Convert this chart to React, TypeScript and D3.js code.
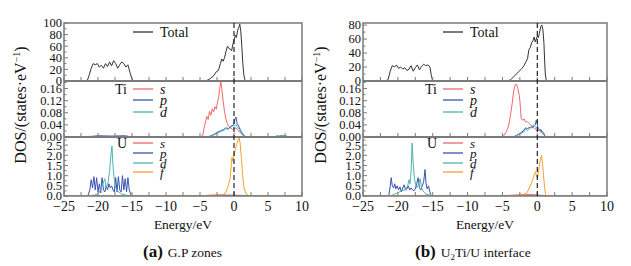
import React from 'react';
import * as d3 from 'd3';

type P = [number, number];

// ---------- tick values ----------
const energyTicks = [-25, -20, -15, -10, -5, 0, 5, 10];
const totalTicksA = [0, 20, 40, 60, 80, 100];
const totalTicksB = [0, 20, 40, 60, 80];
const tiTicks = [0, 0.04, 0.08, 0.12, 0.16];
const uTicks = [0, 0.5, 1.0, 1.5, 2.0, 2.5];

// ---------- (a) G.P zones ----------
const aTotal: P[] = [
  [-25, 0], [-22, 0], [-21.6, 0], [-21.3, 10], [-21.0, 22], [-20.7, 30], [-20.4, 28], [-20.1, 30], [-19.8, 24],
  [-19.5, 27], [-19.2, 22], [-18.9, 30], [-18.6, 25], [-18.3, 33], [-18.0, 26], [-17.7, 35], [-17.4, 30],
  [-17.1, 22], [-16.8, 28], [-16.5, 33], [-16.2, 30], [-15.9, 24], [-15.6, 28], [-15.3, 15], [-15.0, 3],
  [-14.7, 0], [-4.2, 0], [-3.8, 2], [-3.5, 4], [-3.0, 9], [-2.6, 16], [-2.3, 18], [-2.0, 30], [-1.8, 38],
  [-1.6, 34], [-1.4, 40], [-1.2, 50], [-0.95, 60], [-0.75, 56], [-0.55, 55], [-0.35, 52], [-0.15, 64],
  [0.05, 72], [0.2, 79], [0.35, 75], [0.55, 88], [0.7, 92], [0.85, 98], [1.0, 86], [1.15, 60], [1.3, 30],
  [1.45, 10], [1.6, 2], [1.8, 0], [10, 0],
];
const aTiS: P[] = [
  [-25, 0], [-5, 0], [-4.6, 0.005], [-4.3, 0.04], [-4.0, 0.068], [-3.8, 0.058], [-3.6, 0.085], [-3.4, 0.072],
  [-3.2, 0.093], [-3.0, 0.083], [-2.8, 0.1], [-2.6, 0.092], [-2.4, 0.118], [-2.25, 0.13], [-2.1, 0.16],
  [-1.95, 0.185], [-1.8, 0.16], [-1.6, 0.12], [-1.4, 0.085], [-1.2, 0.06], [-1.0, 0.045], [-0.8, 0.035],
  [-0.5, 0.03], [-0.2, 0.025], [0, 0.028], [0.3, 0.03], [0.6, 0.022], [0.9, 0.015], [1.2, 0.008],
  [1.5, 0.002], [1.8, 0], [10, 0],
];
const aTiP: P[] = [
  [-25, 0], [-21, 0.002], [-20, 0.004], [-18, 0.003], [-16, 0.004], [-15, 0], [-4, 0], [-3.5, 0.003],
  [-3, 0.008], [-2.5, 0.015], [-2, 0.02], [-1.5, 0.025], [-1.2, 0.03], [-0.8, 0.028], [-0.5, 0.035],
  [-0.2, 0.038], [0, 0.045], [0.15, 0.06], [0.3, 0.066], [0.45, 0.045], [0.6, 0.04], [0.8, 0.03],
  [1.0, 0.02], [1.3, 0.01], [1.6, 0.002], [2, 0], [6, 0], [6.3, 0.004], [6.6, 0.002], [7, 0.005],
  [7.3, 0.003], [7.6, 0.004], [8, 0], [10, 0],
];
const aTiD: P[] = [
  [-25, 0], [-4, 0], [-3.5, 0.002], [-3, 0.006], [-2.5, 0.012], [-2, 0.018], [-1.5, 0.022], [-1.2, 0.028],
  [-0.9, 0.025], [-0.6, 0.03], [-0.3, 0.035], [0, 0.038], [0.3, 0.04], [0.5, 0.032], [0.8, 0.025],
  [1.0, 0.015], [1.3, 0.006], [1.6, 0], [6.2, 0], [6.6, 0.003], [7.1, 0.004], [7.6, 0.002], [8, 0], [10, 0],
];
const aUS: P[] = [
  [-25, 0], [-5, 0], [-4, 0.03], [-3, 0.05], [-2, 0.06], [-1, 0.05], [0, 0.04], [1, 0.03], [2, 0.01], [3, 0], [10, 0],
];
const aUP: P[] = [
  [-25, 0], [-21.5, 0], [-21.2, 0.3], [-21.0, 0.8], [-20.8, 0.4], [-20.6, 0.95], [-20.4, 0.3], [-20.2, 0.9],
  [-20.0, 0.2], [-19.8, 0.6], [-19.6, 0.15], [-19.4, 0.9], [-19.2, 0.3], [-19.0, 0.2], [-18.8, 0.5],
  [-18.6, 0.3], [-18.4, 0.6], [-18.2, 0.4], [-18.0, 0.5], [-17.8, 0.3], [-17.6, 0.2], [-17.4, 0.9],
  [-17.2, 0.2], [-17.0, 0.95], [-16.8, 0.3], [-16.6, 0.2], [-16.4, 1.0], [-16.2, 0.3], [-16.0, 0.85],
  [-15.8, 0.2], [-15.6, 0.9], [-15.4, 0.3], [-15.2, 0.1], [-15.0, 0], [10, 0],
];
const aUD: P[] = [
  [-25, 0], [-21.5, 0], [-20.5, 0.05], [-20, 0.1], [-19.6, 0.3], [-19.3, 0.6], [-19.0, 0.85], [-18.8, 0.4],
  [-18.5, 0.7], [-18.3, 1.2], [-18.1, 2.0], [-17.95, 2.45], [-17.8, 1.5], [-17.6, 0.8], [-17.4, 0.4],
  [-17.0, 0.2], [-16.5, 0.1], [-16, 0.05], [-15.5, 0.02], [-15, 0], [10, 0],
];
const aUF: P[] = [
  [-25, 0], [-5, 0], [-3, 0.02], [-2, 0.04], [-1.5, 0.08], [-1.2, 0.2], [-0.9, 0.45], [-0.6, 0.8],
  [-0.4, 1.5], [-0.3, 1.9], [-0.15, 1.7], [0, 2.0], [0.2, 2.3], [0.4, 2.55], [0.6, 2.75], [0.75, 2.85],
  [0.9, 2.6], [1.1, 1.8], [1.3, 0.9], [1.5, 0.35], [1.8, 0.1], [2.2, 0.02], [3, 0], [10, 0],
];

// ---------- (b) U2Ti/U interface ----------
const bTotal: P[] = [
  [-25, 0], [-21.8, 0], [-21.4, 2], [-21.1, 14], [-20.8, 22], [-20.5, 20], [-20.2, 23], [-19.9, 18],
  [-19.6, 20], [-19.3, 17], [-19.0, 19], [-18.7, 15], [-18.4, 17], [-18.1, 22], [-17.8, 14], [-17.5, 19],
  [-17.2, 23], [-16.9, 16], [-16.6, 21], [-16.3, 24], [-16.0, 22], [-15.7, 23], [-15.4, 20], [-15.2, 8],
  [-15.0, 0], [-4.2, 0], [-3.8, 2], [-3.4, 6], [-3.0, 10], [-2.6, 14], [-2.2, 18], [-1.9, 22], [-1.6, 28],
  [-1.4, 32], [-1.2, 45], [-1.0, 48], [-0.8, 55], [-0.6, 58], [-0.45, 63], [-0.3, 56], [-0.15, 60],
  [0, 64], [0.15, 62], [0.3, 68], [0.5, 78], [0.65, 80], [0.8, 74], [0.95, 55], [1.05, 30], [1.15, 10],
  [1.3, 0], [10, 0],
];
const bTiS: P[] = [
  [-25, 0], [-5.2, 0], [-4.8, 0.005], [-4.5, 0.015], [-4.2, 0.03], [-4.0, 0.05], [-3.8, 0.08], [-3.6, 0.11],
  [-3.4, 0.15], [-3.2, 0.17], [-3.0, 0.175], [-2.8, 0.16], [-2.6, 0.14], [-2.5, 0.12], [-2.4, 0.09],
  [-2.3, 0.06], [-2.1, 0.055], [-1.9, 0.06], [-1.7, 0.05], [-1.5, 0.052], [-1.2, 0.045], [-1.0, 0.04],
  [-0.7, 0.035], [-0.4, 0.03], [-0.1, 0.022], [0.1, 0.02], [0.3, 0.025], [0.6, 0.02], [0.9, 0.015],
  [1.1, 0.005], [1.3, 0], [10, 0],
];
const bTiP: P[] = [
  [-25, 0], [-3.5, 0], [-3, 0.005], [-2.5, 0.012], [-2, 0.02], [-1.7, 0.03], [-1.4, 0.028], [-1.1, 0.032],
  [-0.8, 0.03], [-0.5, 0.035], [-0.3, 0.04], [-0.15, 0.055], [0, 0.045], [0.1, 0.03], [0.3, 0.02],
  [0.5, 0.025], [0.7, 0.015], [0.9, 0.01], [1.2, 0], [10, 0],
];
const bTiD: P[] = [
  [-25, 0], [-3.5, 0], [-3, 0.004], [-2.5, 0.01], [-2, 0.015], [-1.7, 0.025], [-1.4, 0.022], [-1.1, 0.03],
  [-0.8, 0.035], [-0.5, 0.04], [-0.3, 0.035], [-0.1, 0.03], [0.1, 0.028], [0.3, 0.02], [0.6, 0.015],
  [0.9, 0.008], [1.2, 0], [10, 0],
];
const bUS: P[] = [
  [-25, 0], [-5, 0], [-4, 0.03], [-3, 0.05], [-2, 0.06], [-1, 0.08], [0, 0.05], [1, 0.02], [1.5, 0], [10, 0],
];
const bUP: P[] = [
  [-25, 0], [-21.3, 0], [-21.1, 0.5], [-20.95, 0.9], [-20.8, 0.5], [-20.6, 0.4], [-20.45, 0.6], [-20.3, 0.35],
  [-20.1, 0.5], [-19.9, 0.3], [-19.7, 0.45], [-19.5, 0.2], [-19.3, 0.4], [-19.1, 0.55], [-18.9, 0.3],
  [-18.7, 0.35], [-18.5, 0.5], [-18.3, 0.3], [-18.1, 0.4], [-17.9, 0.3], [-17.7, 0.25], [-17.5, 0.35],
  [-17.3, 0.6], [-17.1, 0.9], [-16.9, 0.4], [-16.7, 0.3], [-16.5, 0.5], [-16.3, 0.7], [-16.1, 1.3],
  [-15.95, 0.6], [-15.8, 0.35], [-15.6, 0.5], [-15.4, 0.2], [-15.2, 0], [10, 0],
];
const bUD: P[] = [
  [-25, 0], [-21, 0], [-20.5, 0.1], [-20, 0.15], [-19.5, 0.25], [-19, 0.3], [-18.6, 0.5], [-18.4, 0.8],
  [-18.25, 0.6], [-18.1, 1.2], [-17.95, 2.6], [-17.8, 1.6], [-17.6, 0.8], [-17.3, 0.4], [-17.0, 0.6],
  [-16.8, 0.85], [-16.6, 0.4], [-16.3, 0.2], [-16, 0.1], [-15.5, 0.05], [-15, 0], [10, 0],
];
const bUF: P[] = [
  [-25, 0], [-4.5, 0], [-3.5, 0.02], [-2.5, 0.05], [-2, 0.08], [-1.5, 0.15], [-1.2, 0.35], [-0.9, 0.6],
  [-0.6, 0.85], [-0.4, 1.1], [-0.25, 1.2], [-0.1, 0.95], [0.05, 0.9], [0.2, 1.3], [0.4, 1.7], [0.6, 2.0],
  [0.75, 1.6], [0.9, 1.0], [1.05, 0.4], [1.2, 0.05], [1.35, 0], [10, 0],
];

const orbitals = ['s', 'p', 'd', 'f'];

// ---------- styles ----------
const FONT = "'Liberation Serif', 'DejaVu Serif', serif";
const C_TOTAL = '#333333';
const C_S = '#f26666';
const C_P = '#3a52b0';
const C_D = '#4db3b3';
const C_F = '#f5a030';
const C_FRAME = '#7a7a7a';

const TOP = 23, SEP1 = 81, SEP2 = 137, BOT = 196;

type Series = { data: P[]; color: string };

function Sub(props: {
  id: string; x: d3.ScaleLinear<number, number>; top: number; bottom: number; ymax: number;
  ticks: number[]; minorStep: number; fmt: (v: number) => string; series: Series[];
}) {
  const { id, x, top, bottom, ymax, ticks, minorStep, fmt, series } = props;
  const y = d3.scaleLinear().domain([0, ymax]).range([bottom, top]);
  const [x0, x1] = x.range();
  const line = d3.line<P>().x(d => x(d[0])).y(d => y(d[1]));
  const minors = d3.range(0, ymax + 1e-9, minorStep).filter(v => !ticks.some(t => Math.abs(t - v) < 1e-9));
  const xMinor = d3.range(-25, 10.001, 2.5);
  return (
    <g>
      <clipPath id={id}><rect x={x0} y={top} width={x1 - x0} height={bottom - top} /></clipPath>
      <g clipPath={`url(#${id})`}>
        {series.map((s, i) => (
          <path key={i} d={line(s.data) || ''} fill="none" stroke={s.color} strokeWidth={1} strokeLinejoin="round" />
        ))}
      </g>
      {ticks.map(t => (
        <g key={t}>
          <line x1={x0} x2={x0 + 4} y1={y(t)} y2={y(t)} stroke={C_FRAME} strokeWidth={1} />
          <text x={x0 - 2} y={y(t)} dy="0.35em" textAnchor="end" style={{ fontFamily: FONT, fontSize: 12.5 }} fill="#111">{fmt(t)}</text>
        </g>
      ))}
      {minors.map(t => (
        <line key={'m' + t} x1={x0} x2={x0 + 2.5} y1={y(t)} y2={y(t)} stroke={C_FRAME} strokeWidth={1} />
      ))}
      {xMinor.map(e => (
        <line key={'x' + e} x1={x(e)} x2={x(e)} y1={bottom} y2={bottom - 4} stroke={C_FRAME} strokeWidth={1} />
      ))}
    </g>
  );
}

function LegendRow(props: { x: number; y: number; color: string; label: string; italic?: boolean; size?: number }) {
  const { x, y, color, label, italic, size } = props;
  return (
    <g>
      <line x1={x} x2={x + 20} y1={y} y2={y} stroke={color} strokeWidth={1.3} />
      <text x={x + 27} y={y} dy="0.35em" style={{ fontFamily: FONT, fontSize: size || 14, fontStyle: italic ? 'italic' : 'normal' }} fill="#111">{label}</text>
    </g>
  );
}

function Panel(props: {
  x0: number; x1: number; side: string; totalMax: number; totalTicks: number[];
  total: P[]; ti: P[][]; u: P[][]; legendX: number; ylabelX: number; captionX: number;
  capLetter: string; caption: React.ReactNode;
}) {
  const { x0, x1, side, totalMax, totalTicks, total, ti, u, legendX, ylabelX, captionX, capLetter, caption } = props;
  const x = d3.scaleLinear().domain([-25, 10]).range([x0, x1]);
  const tiColors = [C_S, C_P, C_D];
  const uColors = [C_S, C_P, C_D, C_F];
  const tiRows = [89, 100, 112];
  const uRows = [143, 153, 163, 172];
  return (
    <g>
      <Sub id={`c${side}1`} x={x} top={TOP} bottom={SEP1} ymax={totalMax} ticks={totalTicks} minorStep={10}
        fmt={d3.format('d')} series={[{ data: total, color: C_TOTAL }]} />
      <Sub id={`c${side}2`} x={x} top={SEP1} bottom={SEP2} ymax={0.185} ticks={tiTicks} minorStep={0.02}
        fmt={d3.format('.2f')} series={ti.map((d, i) => ({ data: d, color: tiColors[i] }))} />
      <Sub id={`c${side}3`} x={x} top={SEP2} bottom={BOT} ymax={2.9} ticks={uTicks} minorStep={0.25}
        fmt={d3.format('.1f')} series={u.map((d, i) => ({ data: d, color: uColors[i] }))} />
      <rect x={x0} y={TOP} width={x1 - x0} height={BOT - TOP} fill="none" stroke={C_FRAME} strokeWidth={1.5} />
      <line x1={x0} x2={x1} y1={SEP1} y2={SEP1} stroke={C_FRAME} strokeWidth={2} />
      <line x1={x0} x2={x1} y1={SEP2} y2={SEP2} stroke={C_FRAME} strokeWidth={2} />
      <line x1={x(0)} x2={x(0)} y1={TOP} y2={BOT} stroke="#111" strokeWidth={1.1} strokeDasharray="5,3" />
      {energyTicks.map(e => (
        <text key={e} x={x(e)} y={211} textAnchor="middle" style={{ fontFamily: FONT, fontSize: 14 }} fill="#111">
          {e < 0 ? '\u2212' + Math.abs(e) : String(e)}
        </text>
      ))}
      <text x={(x0 + x1) / 2} y={229} textAnchor="middle" style={{ fontFamily: FONT, fontSize: 13.5 }} fill="#111">Energy/eV</text>
      <text transform={`translate(${ylabelX},105) rotate(-90)`} textAnchor="middle" style={{ fontFamily: FONT, fontSize: 16 }} fill="#111">
        DOS/(states·eV<tspan dy={-6} style={{ fontSize: 10 }}>{'\u22121'}</tspan><tspan dy={6}>)</tspan>
      </text>
      {/* legends */}
      <LegendRow x={legendX} y={32} color={C_TOTAL} label="Total" />
      <text x={legendX - 6} y={89} dy="0.35em" textAnchor="end" style={{ fontFamily: FONT, fontSize: 14 }} fill="#111">Ti</text>
      {tiRows.map((ry, i) => (
        <LegendRow key={'t' + i} x={legendX} y={ry} color={tiColors[i]} label={orbitals[i]} italic />
      ))}
      <text x={legendX - 6} y={143} dy="0.35em" textAnchor="end" style={{ fontFamily: FONT, fontSize: 14 }} fill="#111">U</text>
      {uRows.map((ry, i) => (
        <LegendRow key={'u' + i} x={legendX} y={ry} color={uColors[i]} label={orbitals[i]} italic size={13} />
      ))}
      {/* caption */}
      <text x={captionX} y={257} style={{ fontFamily: FONT }} fill="#111">
        <tspan style={{ fontSize: 17, fontWeight: 'bold' }}>{capLetter}</tspan>
        <tspan dx={5} style={{ fontSize: 13.5 }}>{caption}</tspan>
      </text>
    </g>
  );
}

export default function App() {
  return (
    <svg width={631} height={266} style={{ position: 'absolute', left: 0, top: 0, background: '#fff' }}>
      <rect width={631} height={266} fill="#fff" />
      <Panel x0={64} x1={302} side="a" totalMax={100} totalTicks={totalTicksA} total={aTotal}
        ti={[aTiS, aTiP, aTiD]} u={[aUS, aUP, aUD, aUF]} legendX={133} ylabelX={26} captionX={143}
        capLetter="(a)" caption="G.P zones" />
      <Panel x0={363} x1={607} side="b" totalMax={83} totalTicks={totalTicksB} total={bTotal}
        ti={[bTiS, bTiP, bTiD]} u={[bUS, bUP, bUD, bUF]} legendX={443} ylabelX={326} captionX={415}
        capLetter="(b)" caption={<>U<tspan style={{ fontSize: 9 }} dy={3}>2</tspan><tspan dy={-3}>Ti/U interface</tspan></>} />
    </svg>
  );
}
